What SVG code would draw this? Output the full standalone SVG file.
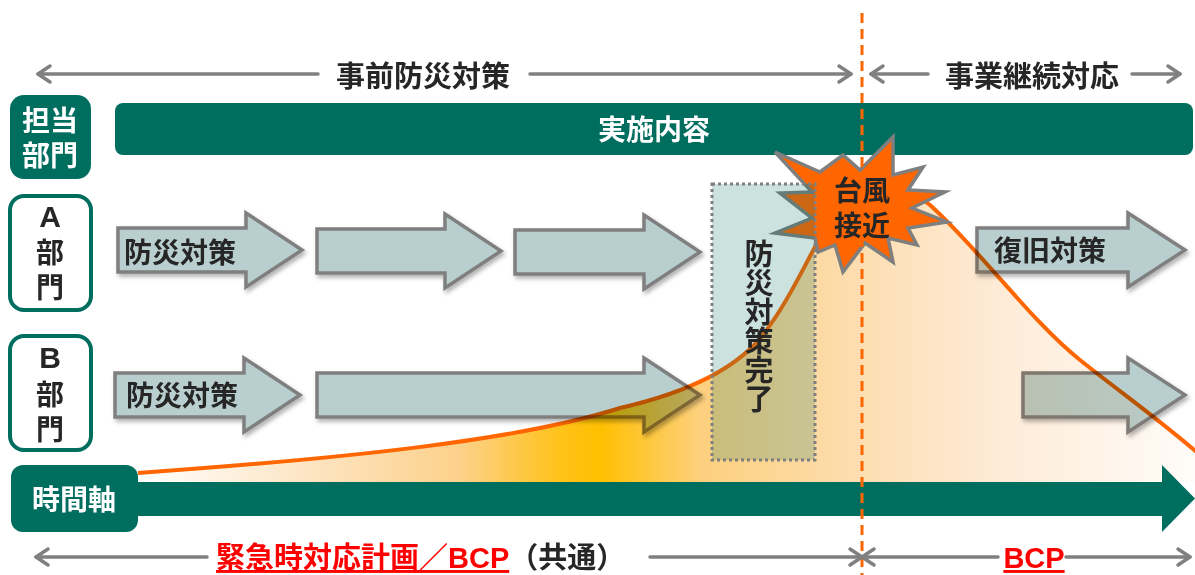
<svg xmlns="http://www.w3.org/2000/svg" width="1195" height="575" viewBox="0 0 1195 575">
<defs>
<style>
text{font-family:"Liberation Sans","Noto Sans CJK JP",sans-serif;font-weight:bold;}
.dk{fill:#262626;font-size:28px;}
.wh{fill:#ffffff;font-size:28px;}
.red{fill:#ff0000;text-decoration:underline;}
.garr{fill:none;stroke:#808080;stroke-width:3.5;stroke-linecap:round;stroke-linejoin:round;}
.blk{fill:#b9cfcf;stroke:#7f7f7f;stroke-width:3.5;stroke-linejoin:miter;filter:url(#sh);}
.dept{fill:#ffffff;stroke:#006e5f;stroke-width:4;}
.teal{fill:#006e5f;}
</style>
<filter id="sh" x="-10%" y="-20%" width="130%" height="150%">
<feDropShadow dx="2" dy="3" stdDeviation="2" flood-color="#000" flood-opacity="0.3"/>
</filter>
<linearGradient id="g" gradientUnits="userSpaceOnUse" x1="138" y1="0" x2="1195" y2="0">
<stop offset="0" stop-color="#ffffff"/>
<stop offset="0.153" stop-color="#fde6c6"/>
<stop offset="0.304" stop-color="#fcd18b"/>
<stop offset="0.399" stop-color="#ffc21a"/>
<stop offset="0.437" stop-color="#ffc000"/>
<stop offset="0.532" stop-color="#fdd07e"/>
<stop offset="0.685" stop-color="#fddeb2"/>
<stop offset="0.816" stop-color="#feebd7"/>
<stop offset="1" stop-color="#fffcf9"/>
</linearGradient>
</defs>

<g id="header-left">
<polyline class="garr" points="50,66 38,74 50,82"/>
<line class="garr" x1="38" y1="74" x2="318" y2="74"/>
<text class="dk" x="423" y="87" text-anchor="middle" style="font-size:29px">事前防災対策</text>
<line class="garr" x1="530" y1="74" x2="851" y2="74"/>
<polyline class="garr" points="839,66 851,74 839,82"/>
</g>
<g id="header-right">
<polyline class="garr" points="883,66 871,74 883,82"/>
<line class="garr" x1="871" y1="74" x2="928" y2="74"/>
<text class="dk" x="1032" y="87" text-anchor="middle" style="font-size:29px">事業継続対応</text>
<line class="garr" x1="1132" y1="74" x2="1180" y2="74"/>
<polyline class="garr" points="1168,66 1180,74 1168,82"/>
</g>

<g id="tanto">
<rect class="teal" x="10" y="95" width="81" height="84" rx="14"/>
<text class="wh" x="50" y="131" text-anchor="middle">担当</text>
<text class="wh" x="50" y="166" text-anchor="middle">部門</text>
</g>
<g id="jisshi">
<rect class="teal" x="115" y="103" width="1078" height="52" rx="8"/>
<text class="wh" x="654" y="140" text-anchor="middle">実施内容</text>
</g>

<g id="deptA">
<rect class="dept" x="10" y="196" width="81" height="114" rx="14"/>
<text class="dk" x="50" y="227" text-anchor="middle" style="font-size:30px">A</text>
<text class="dk" x="50" y="263" text-anchor="middle">部</text>
<text class="dk" x="50" y="298" text-anchor="middle">門</text>
</g>
<g id="deptB">
<rect class="dept" x="10" y="336" width="81" height="114" rx="14"/>
<text class="dk" x="50" y="368" text-anchor="middle" style="font-size:30px">B</text>
<text class="dk" x="50" y="405" text-anchor="middle">部</text>
<text class="dk" x="50" y="440" text-anchor="middle">門</text>
</g>

<g id="arrowsA">
<polygon class="blk" points="118,228 246,228 246,213 302,250 246,287 246,272 118,272"/>
<polygon class="blk" points="317,229 445,229 445,214 501,251 445,288 445,273 317,273"/>
<polygon class="blk" points="515,230 644,230 644,215 700,252 644,289 644,274 515,274"/>
<polygon class="blk" points="977,228 1128,228 1128,213 1185,250 1128,287 1128,272 977,272"/>
<text class="dk" x="124" y="263">防災対策</text>
<text class="dk" x="994" y="261">復旧対策</text>
</g>
<g id="arrowsB">
<polygon class="blk" points="115,373 244,373 244,358 300,395 244,432 244,417 115,417"/>
<polygon class="blk" points="317,373 644,373 644,358 700,395 644,432 644,417 317,417"/>
<polygon class="blk" points="1023,373 1128,373 1128,358 1185,395 1128,432 1128,417 1023,417"/>
<text class="dk" x="126" y="406">防災対策</text>
</g>

<g id="risk-curve" style="mix-blend-mode:multiply">
<path fill="url(#g)" d="M138,473 C350,458 520,440 620,408 C690,392 745,365 770,325 C800,285 820,225 850,195 C870,178 900,180 930,205 C980,250 1030,320 1080,360 C1120,392 1160,420 1195,452 L1195,482 L138,482 Z"/>
<path fill="none" stroke="#ff6600" stroke-width="4" d="M138,473 C350,458 520,440 620,408 C690,392 745,365 770,325 C800,285 820,225 850,195 C870,178 900,180 930,205 C980,250 1030,320 1080,360 C1120,392 1160,420 1200,455"/>
</g>

<g id="timeaxis">
<polygon class="teal" points="130,482 1162,482 1162,465 1195,498.5 1162,532 1162,516 130,516"/>
<rect class="teal" x="11" y="465" width="127" height="67" rx="12"/>
<text class="wh" x="74" y="510" text-anchor="middle">時間軸</text>
</g>

<g id="typhoon">
<polygon fill="#ff6600" stroke="#7f7f7f" stroke-width="3.5" stroke-linejoin="miter" points="775,152 820,172 843,155 860,170 893,137 893,175 923,167 908,190 945,192 912,208 947,222 908,228 917,245 888,238 893,262 865,243 843,272 835,245 818,252 815,238 775,233 812,218 780,193 812,192"/>
</g>

<g id="connectors">
<line x1="862" y1="13" x2="862" y2="575" stroke="#ff6600" stroke-width="3" stroke-dasharray="10,6"/>
</g>

<g id="typhoon-label">
<text class="dk" x="862" y="201" text-anchor="middle">台風</text>
<text class="dk" x="862" y="236" text-anchor="middle">接近</text>
</g>

<g id="kanryo">
<rect x="712" y="184" width="103" height="276" fill="#006e5f" fill-opacity="0.2" stroke="#7f7f7f" stroke-width="3" stroke-dasharray="3,3"/>
<text class="dk" text-anchor="middle" style="font-size:29px"><tspan x="759" y="265">防</tspan><tspan x="759" y="294">災</tspan><tspan x="759" y="323">対</tspan><tspan x="759" y="352">策</tspan><tspan x="759" y="381">完</tspan><tspan x="759" y="410">了</tspan></text>
</g>

<g id="footer-left">
<polyline class="garr" points="48,549 36,557 48,565"/>
<line class="garr" x1="36" y1="557" x2="207" y2="557"/>
<text x="216" y="568" style="font-size:29px"><tspan class="red">緊急時対応計画／BCP</tspan><tspan fill="#262626">（共通）</tspan></text>
<line class="garr" x1="650" y1="557" x2="862" y2="557"/>
<polyline class="garr" points="850,549 862,557 850,565"/>
</g>
<g id="footer-right">
<polyline class="garr" points="874,549 862,557 874,565"/>
<line class="garr" x1="862" y1="557" x2="998" y2="557"/>
<text class="red" x="1034" y="568" text-anchor="middle" style="font-size:29px">BCP</text>
<line class="garr" x1="1066" y1="557" x2="1190" y2="557"/>
<polyline class="garr" points="1178,549 1190,557 1178,565"/>
</g>
</svg>
